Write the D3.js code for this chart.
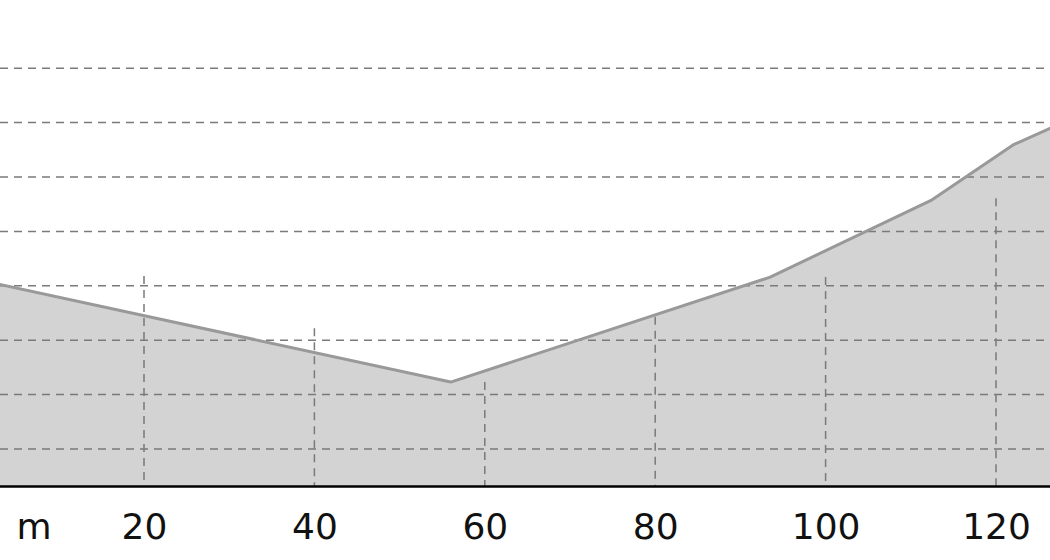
<!DOCTYPE html>
<html>
<head>
<meta charset="utf-8">
<script src="https://cdn.jsdelivr.net/npm/d3@7"></script>
<style>
  html, body { margin: 0; padding: 0; background: #fff; }
  svg { display: block; font-family: "DejaVu Sans", sans-serif; }
</style>
</head>
<body>
<svg id="chart" width="1050" height="560"></svg>
<script>
// ---- data ----
const distance = [0, 56, 93.5, 112.5, 122, 127];            // m along the profile
const elevation = [41.3, 22.3, 41.6, 55.8, 65.9, 69.4];      // profile values
const xTicks = [20, 40, 60, 80, 100, 120];
const xTickTops = [41.8, 32.2, 22.3, 34.3, 41.6, 56.1];      // height reached by each vertical grid line
const yTicks = [10, 20, 30, 40, 50, 60, 70, 80];
const unitLabel = "m";

// ---- layout ----
const W = 1050, H = 560;
const axisY = 486;
const svg = d3.select("#chart");

const x = d3.scaleLinear().domain([20, 120]).range([144, 996]);
const y = d3.scaleLinear().domain([10, 80]).range([449, 68.2]);

const pts = distance.map((d, i) => ({ d, e: elevation[i] }));

// area fill
const area = d3.area()
  .x(p => x(p.d))
  .y0(axisY)
  .y1(p => y(p.e));
svg.append("path")
  .datum(pts)
  .attr("d", area)
  .attr("fill", "#d3d3d3");

// horizontal dashed grid lines
svg.append("g").selectAll("line")
  .data(yTicks)
  .join("line")
  .attr("x1", 0).attr("x2", W)
  .attr("y1", d => y(d)).attr("y2", d => y(d))
  .attr("stroke", "#7a7a7a")
  .attr("stroke-width", 1.5)
  .attr("stroke-dasharray", "8,6");

// vertical dashed grid lines
svg.append("g").selectAll("line")
  .data(xTicks)
  .join("line")
  .attr("x1", d => x(d)).attr("x2", d => x(d))
  .attr("y1", (d, i) => y(xTickTops[i]))
  .attr("y2", axisY)
  .attr("stroke", "#7a7a7a")
  .attr("stroke-width", 1.5)
  .attr("stroke-dasharray", "8,6");

// profile line
const line = d3.line().x(p => x(p.d)).y(p => y(p.e));
svg.append("path")
  .datum(pts)
  .attr("d", line)
  .attr("fill", "none")
  .attr("stroke", "#999999")
  .attr("stroke-width", 3)
  .attr("stroke-linejoin", "round");

// x axis
const axis = d3.axisBottom(x)
  .tickValues(xTicks)
  .tickSize(0)
  .tickFormat(d3.format("d"));
const gAxis = svg.append("g")
  .attr("transform", `translate(0,${axisY})`)
  .call(axis);
gAxis.select(".domain").remove();
gAxis.append("line")
  .attr("x1", 0).attr("x2", W)
  .attr("y1", 0.5).attr("y2", 0.5)
  .attr("stroke", "#000")
  .attr("stroke-width", 2.5);
gAxis.selectAll("text")
  .attr("y", 53)
  .attr("dy", 0)
  .attr("fill", "#111")
  .style("font-size", "36px")
  .style("font-family", "DejaVu Sans, sans-serif");

// unit label
svg.append("text")
  .attr("x", 34)
  .attr("y", axisY + 53)
  .attr("text-anchor", "middle")
  .attr("fill", "#111")
  .style("font-size", "36px")
  .text(unitLabel);
</script>
</body>
</html>
